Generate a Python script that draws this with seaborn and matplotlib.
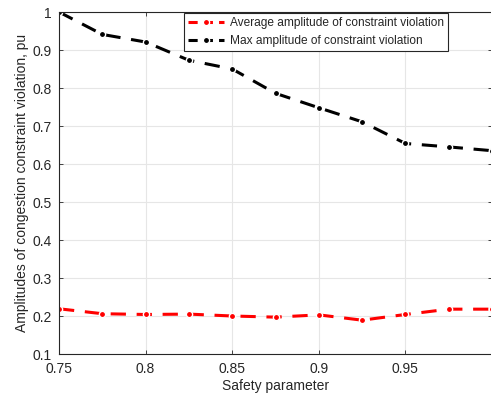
import numpy as np
import pandas as pd
import matplotlib
matplotlib.use('Agg')
import matplotlib.pyplot as plt
import seaborn as sns

# Data
safety = [0.75, 0.775, 0.8, 0.825, 0.85, 0.875, 0.9, 0.925, 0.95, 0.975, 1.0]
avg_amp = [0.219, 0.206, 0.204, 0.205, 0.200, 0.197, 0.203, 0.189, 0.204, 0.218, 0.218]
max_amp = [1.0, 0.941, 0.921, 0.873, 0.850, 0.786, 0.748, 0.711, 0.654, 0.645, 0.635]
x_ticks = [0.75, 0.8, 0.85, 0.9, 0.95, 1.0]
x_labels = ['0.75', '0.8', '0.85', '0.9', '0.95', '']  # '1' falls outside the cropped picture
y_ticks = [0.1, 0.2, 0.3, 0.4, 0.5, 0.6, 0.7, 0.8, 0.9, 1.0]
y_labels = ['0.1', '0.2', '0.3', '0.4', '0.5', '0.6', '0.7', '0.8', '0.9', '1']

df = pd.DataFrame({
    'safety': safety * 2,
    'value': avg_amp + max_amp,
    'series': ['Average amplitude of constraint violation'] * len(safety)
              + ['Max amplitude of constraint violation'] * len(safety),
})

sns.set_style('whitegrid')
plt.rcParams['font.family'] = ['Liberation Sans', 'DejaVu Sans']

fig = plt.figure(figsize=(4.91, 3.97), dpi=100)
ax = fig.add_axes([59 / 491, 43 / 397, 433 / 491, 342 / 397])

palette = {'Average amplitude of constraint violation': '#ff0000',
           'Max amplitude of constraint violation': '#000000'}
sns.lineplot(data=df, x='safety', y='value', hue='series', palette=palette,
             marker='o', markersize=4.5, markeredgewidth=1, linewidth=2.2,
             ax=ax, legend=True)
for line in ax.get_lines():
    line.set_dashes([5, 3.5])

ax.set_xlim(0.75, 1.0)
ax.set_ylim(0.1, 1.0)
ax.set_xticks(x_ticks)
ax.set_xticklabels(x_labels)
ax.set_yticks(y_ticks)
ax.set_yticklabels(y_labels)
ax.tick_params(labelsize=10, colors='#262626', direction='in', length=3, width=0.6,
               right=True, top=True, left=True, bottom=True)
ax.tick_params(axis='x', pad=6)
ax.tick_params(axis='y', pad=5)
ax.grid(True, color='#e6e6e6', linewidth=0.8)
for s in ax.spines.values():
    s.set_color('#262626')
    s.set_linewidth(0.8)

ax.set_xlabel('Safety parameter', fontsize=10, color='#262626', labelpad=2)
ax.set_ylabel('Amplitudes of congestion constraint violation, pu', fontsize=10,
              color='#262626', labelpad=3)

leg = ax.legend(loc='upper left', bbox_to_anchor=(124 / 433, 1.0), fontsize=8.6,
                frameon=True, fancybox=False, edgecolor='#262626', framealpha=1,
                handlelength=3, borderpad=0.35, labelspacing=0.45, handletextpad=0.5,
                borderaxespad=0.1)
leg.get_frame().set_linewidth(0.8)
for h in leg.get_lines():
    h.set_dashes([3, 2])

fig.savefig('out.png', dpi=100)
